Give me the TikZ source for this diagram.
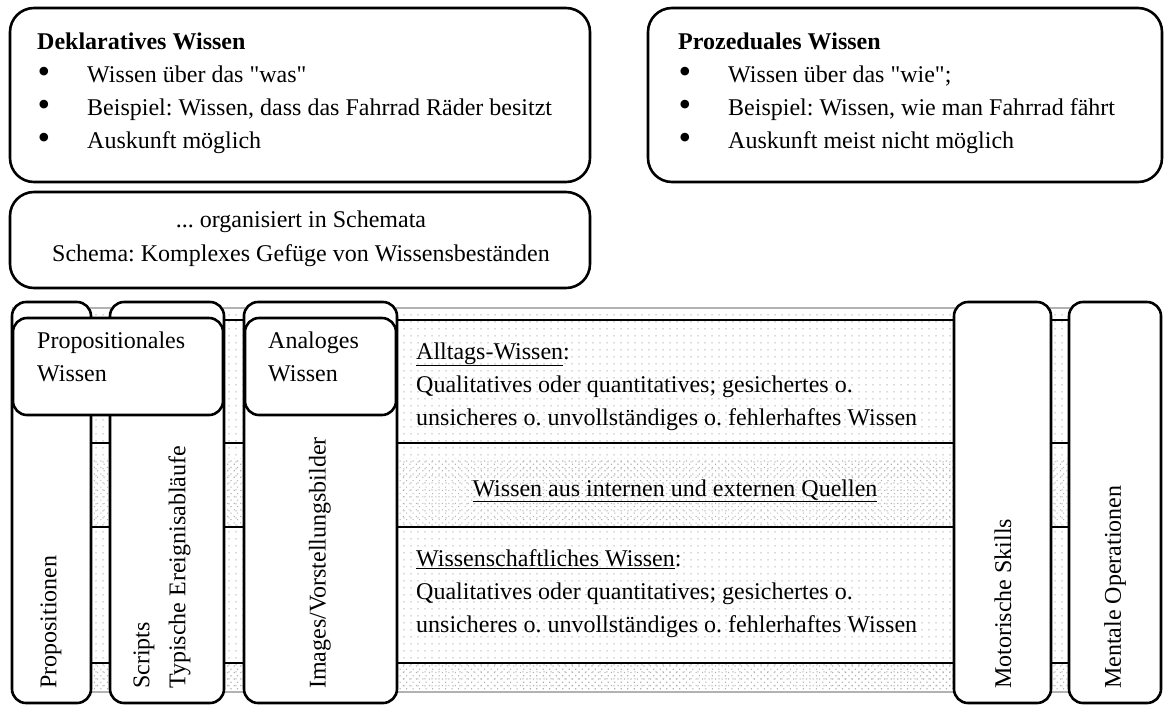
\documentclass[tikz,border=0pt]{standalone}
\usepackage{fontspec}
\setmainfont{Liberation Serif}[Ligatures=TeXOff]
\usetikzlibrary{patterns.meta}
\begin{document}
\frenchspacing
\begin{tikzpicture}[x=1pt,y=-1pt,
  font=\fontsize{24}{33}\selectfont,
  bigbox/.style={draw, line width=2.6pt, rounded corners=24pt, inner sep=0pt},
  colbox/.style={draw, fill=white, line width=2.6pt, rounded corners=14pt, inner sep=0pt},
  txt/.style={anchor=base west, inner sep=0pt},
  ctxt/.style={anchor=base, inner sep=0pt},
  bul/.style={anchor=center, inner sep=0pt, font=\fontsize{36}{36}\selectfont},
  rot/.style={rotate=90, anchor=west, inner sep=0pt},
  sparse/.style={pattern={Dots[distance=6.5pt,radius=0.8pt]}, pattern color=gray!60},
  dense/.style={pattern={Dots[distance=4.6pt,angle=45,radius=0.8pt]}, pattern color=gray!60},
  rowline/.style={line width=2pt},
  edgeline/.style={line width=2pt, gray!60}]
\useasboundingbox (0,0) rectangle (1167,705);

% top boxes
\node[bigbox, minimum width=580pt, minimum height=174pt] (dekl) at (300,95) {};
\node[txt] (dt) at (37,49) {\bfseries Deklaratives Wissen};
\node[bul] (db1) at (44,75) {•};
\node[txt] (dl1) at (87,82) {Wissen über das "was"};
\node[bul] (db2) at (44,108) {•};
\node[txt] (dl2) at (87,115) {Beispiel: Wissen, dass das Fahrrad Räder besitzt};
\node[bul] (db3) at (44,141) {•};
\node[txt] (dl3) at (87,148) {Auskunft möglich};

\node[bigbox, minimum width=514pt, minimum height=174pt] (proz) at (905,95) {};
\node[txt] (pt) at (678,49) {\bfseries Prozeduales Wissen};
\node[bul] (pb1) at (685,75) {•};
\node[txt] (pl1) at (728,82) {Wissen über das "wie";};
\node[bul] (pb2) at (685,108) {•};
\node[txt] (pl2) at (728,115) {Beispiel: Wissen, wie man Fahrrad fährt};
\node[bul] (pb3) at (685,141) {•};
\node[txt] (pl3) at (728,148) {Auskunft meist nicht möglich};

\node[bigbox, minimum width=580pt, minimum height=96pt] (schema) at (300,240) {};
\node[ctxt] (s1) at (301,227) {... organisiert in Schemata};
\node[ctxt] (s2) at (301,261) {Schema: Komplexes Gefüge von Wissensbeständen};

% band
\fill[sparse] (12,308) rectangle (1160,692);
\fill[dense] (12,458) rectangle (1160,527);
\fill[dense] (12,663) rectangle (1160,692);
\draw[edgeline] (12,308) -- (1160,308);
\draw[edgeline] (12,692) -- (1160,692);
\draw[rowline] (12,320) -- (1160,320);
\draw[rowline] (12,443) -- (1160,443);
\draw[rowline] (12,527) -- (1160,527);
\draw[rowline] (12,663) -- (1160,663);

% row texts
\node[txt] (a1) at (416,359) {\underline{Alltags-Wissen}:};
\node[txt] (a2) at (416,392) {Qualitatives oder quantitatives; gesichertes o.};
\node[txt] (a3) at (416,425) {unsicheres o. unvollständiges o. fehlerhaftes Wissen};
\node[ctxt] (q) at (675,496) {\underline{Wissen aus internen und externen Quellen}};
\node[txt] (w1) at (416,566) {\underline{Wissenschaftliches Wissen}:};
\node[txt] (w2) at (416,599) {Qualitatives oder quantitatives; gesichertes o.};
\node[txt] (w3) at (416,632) {unsicheres o. unvollständiges o. fehlerhaftes Wissen};

% columns
\node[colbox, minimum width=79pt, minimum height=401pt] (cprop) at (51.5,502.5) {};
\node[colbox, minimum width=114pt, minimum height=401pt] (cscr) at (167,502.5) {};
\node[colbox, minimum width=153pt, minimum height=401pt] (cimg) at (320.5,502.5) {};
\node[colbox, minimum width=97pt, minimum height=401pt] (cmot) at (1002.5,502.5) {};
\node[colbox, minimum width=92pt, minimum height=401pt] (cment) at (1115,502.5) {};

\node[colbox, minimum width=210pt, minimum height=97pt] (pw) at (118,366.5) {};
\node[colbox, minimum width=151pt, minimum height=97pt] (aw) at (320.5,366.5) {};
\node[txt] (pw1) at (37,348) {Propositionales};
\node[txt] (pw2) at (37,381) {Wissen};
\node[txt] (aw1) at (268,348) {Analoges};
\node[txt] (aw2) at (268,381) {Wissen};

\node[rot] (tprop) at (51,689) {Propositionen};
\node[rot, align=left] (tscr) at (162,689) {Scripts\\[3pt]Typische Ereignisabläufe};
\node[rot] (timg) at (320,689) {Images/Vorstellungsbilder};
\node[rot] (tmot) at (1003,689) {Motorische Skills};
\node[rot] (tment) at (1115,689) {Mentale Operationen};
\end{tikzpicture}
\end{document}
